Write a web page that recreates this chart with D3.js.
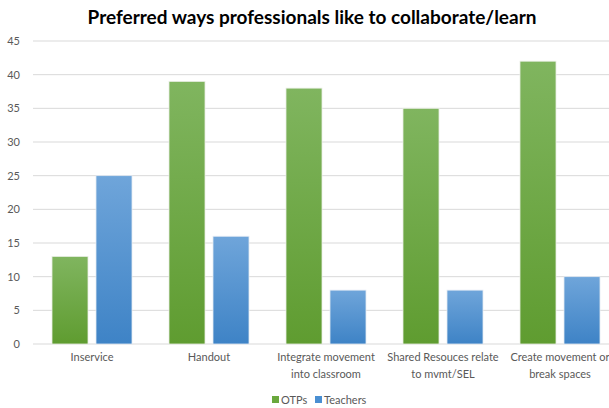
<!DOCTYPE html>
<html>
<head>
<meta charset="utf-8">
<script src="https://cdn.jsdelivr.net/npm/d3@7"></script>
<style>
  body { margin: 0; background: #fff; }
  svg { display: block; font-family: Lato, "Open Sans", sans-serif; }
</style>
</head>
<body>
<svg id="chart"></svg>
<script>
const categories = [
    ['Inservice'],
    ['Handout'],
    ['Integrate movement', 'into classroom'],
    ['Shared Resouces relate', 'to mvmt/SEL'],
    ['Create movement or', 'break spaces']
];
const otps = [13, 39, 38, 35, 42];
const teachers = [25, 16, 8, 8, 10];
const yTicks = [0, 5, 10, 15, 20, 25, 30, 35, 40, 45];
const seriesNames = ['OTPs', 'Teachers'];

const width = 609, height = 408;
const svg = d3.select('#chart').attr('width', width).attr('height', height);

// gradients
const defs = svg.append('defs');
function gradient(id, top, bottom) {
    const g = defs.append('linearGradient').attr('id', id)
        .attr('x1', 0).attr('y1', 0).attr('x2', 0).attr('y2', 1);
    g.append('stop').attr('offset', '0%').attr('stop-color', top);
    g.append('stop').attr('offset', '100%').attr('stop-color', bottom);
}
gradient('gGreen', '#80b55f', '#5f9c30');
gradient('gBlue', '#6fa5da', '#3e83c6');

const x = d3.scaleBand()
    .domain(d3.range(categories.length))
    .range([33.5, 618.5]);

const y = d3.scaleLinear()
    .domain([0, 45])
    .range([344, 41]);

// gridlines
svg.append('g')
    .selectAll('line')
    .data(yTicks)
    .join('line')
    .attr('x1', 33).attr('x2', width)
    .attr('y1', d => y(d)).attr('y2', d => y(d))
    .attr('stroke', '#d9d9d9')
    .attr('stroke-width', 1);

// y tick labels
svg.append('g')
    .selectAll('text')
    .data(yTicks)
    .join('text')
    .attr('x', 20)
    .attr('y', d => y(d) + 4)
    .attr('text-anchor', 'end')
    .attr('font-size', '11px')
    .attr('fill', '#595959')
    .text(d => d);

// bars
const barW = 36, gap = 8;
const groups = svg.append('g')
    .selectAll('g')
    .data(categories.map((c, i) => i))
    .join('g')
    .attr('transform', i => `translate(${x(i) + x.bandwidth() / 2}, 0)`);

groups.append('rect')
    .attr('x', -barW - gap / 2)
    .attr('y', i => y(otps[i]))
    .attr('width', barW)
    .attr('height', i => y(0) - y(otps[i]))
    .attr('fill', 'url(#gGreen)')
    .attr('stroke', '#e8eee3')
    .attr('stroke-width', 0.8);

groups.append('rect')
    .attr('x', gap / 2)
    .attr('y', i => y(teachers[i]))
    .attr('width', barW)
    .attr('height', i => y(0) - y(teachers[i]))
    .attr('fill', 'url(#gBlue)')
    .attr('stroke', '#e3eaf3')
    .attr('stroke-width', 0.8);

// category labels
groups.append('text')
    .attr('text-anchor', 'middle')
    .attr('font-size', '11px')
    .attr('fill', '#595959')
    .selectAll('tspan')
    .data(i => categories[i])
    .join('tspan')
    .attr('x', 0)
    .attr('y', (d, j) => 361 + j * 17)
    .text(d => d);

// title
svg.append('text')
    .attr('x', 312)
    .attr('y', 24)
    .attr('text-anchor', 'middle')
    .attr('font-size', '19px')
    .attr('font-weight', 'bold')
    .attr('fill', '#000')
    .text('Preferred ways professionals like to collaborate/learn');

// legend
const legend = svg.append('g');
const legendX = [272, 315];
const legendFill = ['#6aa83d', '#4a8fd2'];
seriesNames.forEach((name, i) => {
    legend.append('rect')
        .attr('x', legendX[i]).attr('y', 396)
        .attr('width', 7).attr('height', 7)
        .attr('fill', legendFill[i]);
    legend.append('text')
        .attr('x', legendX[i] + 9).attr('y', 404)
        .attr('font-size', '11px')
        .attr('fill', '#595959')
        .text(name);
});
</script>
</body>
</html>
